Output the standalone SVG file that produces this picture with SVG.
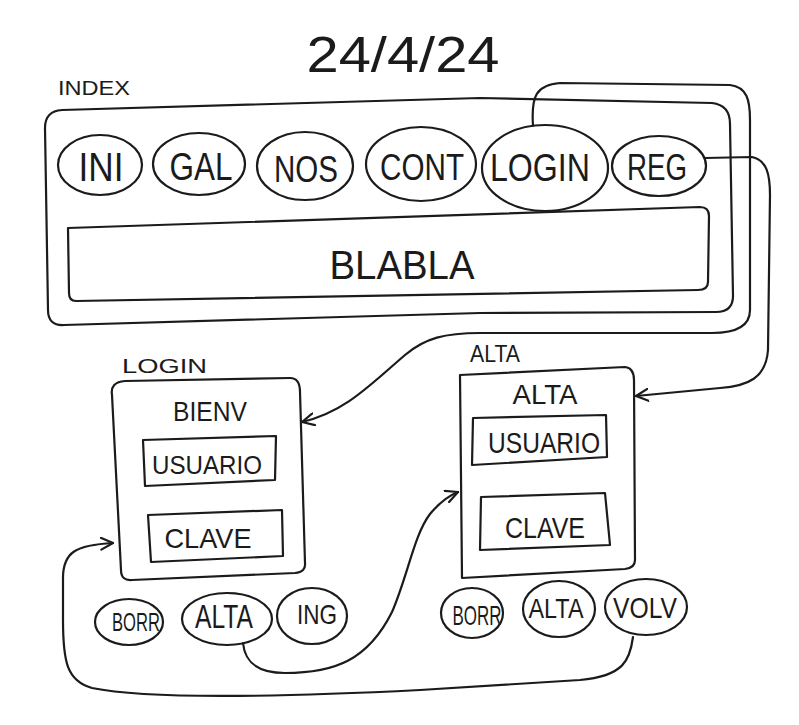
<svg xmlns="http://www.w3.org/2000/svg" width="799" height="725" viewBox="0 0 799 725">
<defs>
<style>
.ln{fill:none;stroke:#1b1b1b;stroke-width:2.2;stroke-linecap:round;stroke-linejoin:round}
.tx{font-family:"Liberation Sans","DejaVu Sans",sans-serif;fill:#1b1b1b;text-anchor:middle}
.lb{font-family:"Liberation Sans","DejaVu Sans",sans-serif;fill:#1b1b1b}
</style>
<marker id="arr" viewBox="0 0 14 14" refX="13" refY="7" markerWidth="14" markerHeight="14" markerUnits="userSpaceOnUse" orient="auto">
<path d="M1,1 L13,7 L1,13" fill="none" stroke="#1b1b1b" stroke-width="2.2" stroke-linecap="round" stroke-linejoin="round"/>
</marker>
</defs>
<rect width="799" height="725" fill="#ffffff"/>

<text class="tx" x="403" y="72" font-size="50" textLength="193" lengthAdjust="spacingAndGlyphs">24/4/24</text>

<g id="index">
<text class="lb" x="58" y="95" font-size="20" textLength="72" lengthAdjust="spacingAndGlyphs">INDEX</text>
<path class="ln" d="M45,128 Q45,111 62,110 L480,98 L712,103 Q730,105 730,124 L733,296 Q733,312 716,312 L480,313 L64,325 Q48,326 48,310 Z"/>
<g id="btn-ini"><ellipse class="ln" cx="100" cy="165" rx="42" ry="30"/><text class="tx" x="101" y="181" font-size="40" textLength="45" lengthAdjust="spacingAndGlyphs">INI</text></g>
<g id="btn-gal"><ellipse class="ln" cx="199" cy="164" rx="46" ry="31"/><text class="tx" x="201" y="180" font-size="38" textLength="63" lengthAdjust="spacingAndGlyphs">GAL</text></g>
<g id="btn-nos"><ellipse class="ln" cx="305" cy="166" rx="48" ry="34"/><text class="tx" x="306" y="182" font-size="36" textLength="64" lengthAdjust="spacingAndGlyphs">NOS</text></g>
<g id="btn-cont"><ellipse class="ln" cx="421" cy="164" rx="55" ry="37"/><text class="tx" x="422" y="180" font-size="36" textLength="84" lengthAdjust="spacingAndGlyphs">CONT</text></g>
<g id="btn-login"><ellipse class="ln" cx="545" cy="168" rx="63" ry="43"/><text class="tx" x="540" y="181" font-size="38" textLength="100" lengthAdjust="spacingAndGlyphs">LOGIN</text></g>
<g id="btn-reg"><ellipse class="ln" cx="659" cy="166" rx="47" ry="30"/><text class="tx" x="657" y="180" font-size="36" textLength="60" lengthAdjust="spacingAndGlyphs">REG</text></g>
<g id="blabla"><path class="ln" d="M68,228 L700,207 Q709,207 709,216 L708,282 Q708,290 698,290 L76,301 Q69,301 69,293 Z"/><text class="tx" x="402" y="279" font-size="40" textLength="145" lengthAdjust="spacingAndGlyphs">BLABLA</text></g>
</g>

<g id="login-page">
<text class="lb" x="122" y="373" font-size="21" textLength="85" lengthAdjust="spacingAndGlyphs">LOGIN</text>
<path class="ln" d="M112,395 Q110,382 125,381 L290,378 Q300,378 300,392 L305,563 Q306,572 295,573 L132,580 Q121,581 121,570 Z"/>
<text class="tx" x="210" y="421" font-size="28" textLength="74" lengthAdjust="spacingAndGlyphs">BIENV</text>
<g id="login-usuario"><path class="ln" d="M143,440 L276,436 L275,480 L145,486 Z"/><text class="tx" x="207" y="474" font-size="26" textLength="110" lengthAdjust="spacingAndGlyphs">USUARIO</text></g>
<g id="login-clave"><path class="ln" d="M148,515 L282,510 L283,556 L151,562 Z"/><text class="tx" x="208" y="548" font-size="28" textLength="87" lengthAdjust="spacingAndGlyphs">CLAVE</text></g>
<g id="login-borr"><ellipse class="ln" cx="129" cy="622" rx="34" ry="23"/><text class="tx" x="136" y="631" font-size="25" textLength="48" lengthAdjust="spacingAndGlyphs">BORR</text></g>
<g id="login-alta"><ellipse class="ln" cx="227" cy="619" rx="45" ry="26"/><text class="tx" x="224" y="628" font-size="34" textLength="58" lengthAdjust="spacingAndGlyphs">ALTA</text></g>
<g id="login-ing"><ellipse class="ln" cx="312" cy="616" rx="35" ry="28"/><text class="tx" x="317" y="624" font-size="28" textLength="40" lengthAdjust="spacingAndGlyphs">ING</text></g>
</g>

<g id="alta-page">
<text class="lb" x="470" y="362" font-size="24" textLength="50" lengthAdjust="spacingAndGlyphs">ALTA</text>
<path class="ln" d="M460,375 L625,367 Q634,368 634,380 L635,560 Q635,568 625,569 L462,578 Z"/>
<text class="tx" x="545" y="404" font-size="28" textLength="65" lengthAdjust="spacingAndGlyphs">ALTA</text>
<g id="alta-usuario"><path class="ln" d="M473,418 L606,415 L607,457 L472,465 Z"/><text class="tx" x="544" y="453" font-size="30" textLength="112" lengthAdjust="spacingAndGlyphs">USUARIO</text></g>
<g id="alta-clave"><path class="ln" d="M481,497 L605,493 L610,545 L480,550 Z"/><text class="tx" x="545" y="538" font-size="30" textLength="80" lengthAdjust="spacingAndGlyphs">CLAVE</text></g>
<g id="alta-borr"><ellipse class="ln" cx="472" cy="613" rx="31" ry="25"/><text class="tx" x="477" y="625" font-size="28" textLength="49" lengthAdjust="spacingAndGlyphs">BORR</text></g>
<g id="alta-alta"><ellipse class="ln" cx="559" cy="609" rx="36" ry="28"/><text class="tx" x="556" y="618" font-size="28" textLength="55" lengthAdjust="spacingAndGlyphs">ALTA</text></g>
<g id="alta-volv"><ellipse class="ln" cx="646" cy="607" rx="41" ry="28"/><text class="tx" x="645" y="618" font-size="30" textLength="64" lengthAdjust="spacingAndGlyphs">VOLV</text></g>
</g>

<g id="connectors">
<path class="ln" marker-end="url(#arr)" d="M533,126 C531,96 536,85 560,83 L730,85 C747,87 750,100 750,120 L750,310 C750,326 736,333 712,333 L480,333 C445,333 425,338 405,355 C370,385 345,412 302,422"/>
<path class="ln" marker-end="url(#arr)" d="M705,158 L752,157 C767,160 770,175 770,195 L768,350 C766,378 748,386 720,388 L636,396"/>
<path class="ln" marker-end="url(#arr)" d="M243,643 C245,663 258,673 285,673 C335,673 368,660 392,612 C408,575 414,535 430,514 C440,502 448,496 458,492"/>
<path class="ln" marker-end="url(#arr)" d="M633,637 C630,660 624,676 580,680 L420,690 C300,696 150,700 92,688 C67,681 63,662 63,620 L63,578 C63,552 76,545 113,543"/>
</g>
</svg>
